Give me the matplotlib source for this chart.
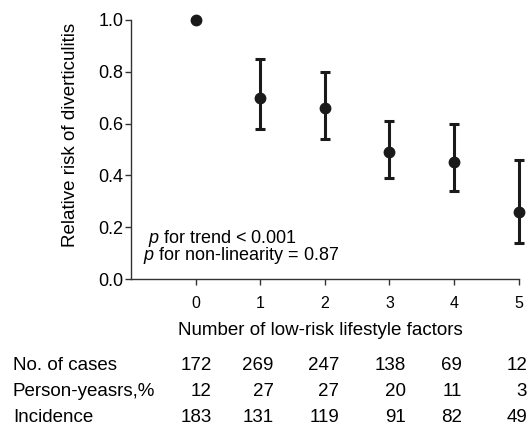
import matplotlib
matplotlib.use("Agg")
import matplotlib.pyplot as plt
import matplotlib.transforms as mtransforms

plt.rcParams['font.family'] = ['Liberation Sans', 'DejaVu Sans']
plt.rcParams['mathtext.fontset'] = 'custom'
plt.rcParams['mathtext.rm'] = 'Liberation Sans'
plt.rcParams['mathtext.it'] = 'Liberation Sans:italic'

# number of low-risk lifestyle factors
factors = [0, 1, 2, 3, 4, 5]
rr = [1.0, 0.70, 0.66, 0.49, 0.45, 0.26]
rr_low = [1.0, 0.58, 0.54, 0.39, 0.34, 0.14]
rr_high = [1.0, 0.85, 0.80, 0.61, 0.60, 0.46]

row_names = ['No. of cases', 'Person-yeasrs,%', 'Incidence']
n_cases = [172, 269, 247, 138, 69, 12]
person_years = [12, 27, 27, 20, 11, 3]
incidence = [183, 131, 119, 91, 82, 49]

W, H = 531, 426
fig = plt.figure(figsize=(W / 100, H / 100), dpi=100)
ax = fig.add_axes([131 / W, 1 - 279 / H, (518.7 - 131) / W, (279 - 20) / H])

col = '#1a1a1a'
# reference category, no CI
ax.plot(factors[0], rr[0], 'o', color=col, markersize=7.5, clip_on=False, zorder=3)
yerr = [[rr[i] - rr_low[i] for i in range(1, 6)], [rr_high[i] - rr[i] for i in range(1, 6)]]
ax.errorbar(factors[1:], rr[1:], yerr=yerr, fmt='o', color=col, markersize=7.5,
            elinewidth=2.2, capsize=3.8, capthick=2.2, clip_on=False, zorder=3)

ax.set_xlim(-1, 5)
ax.set_ylim(0, 1)
ax.set_xticks(factors)
ax.set_yticks([0, 0.2, 0.4, 0.6, 0.8, 1.0])
ax.set_yticklabels(['0.0', '0.2', '0.4', '0.6', '0.8', '1.0'])
for s in ['top', 'right']:
    ax.spines[s].set_visible(False)
for s in ['left', 'bottom']:
    ax.spines[s].set_color('#333333')
    ax.spines[s].set_linewidth(1.0)
ax.tick_params(axis='x', length=4.3, width=1.0, color='#333333', labelsize=11.5, pad=8)
ax.tick_params(axis='y', length=4.3, width=1.0, color='#333333', labelsize=13, pad=1)

fig.text(143 / W, 1 - 260 / H, ' $p$ for trend < 0.001\n$p$ for non-linearity = 0.87',
         fontsize=13, va='baseline', ha='left', linespacing=0.75)

fig.text(62 / W, 1 - 135 / H, 'Relative risk of diverticulitis', rotation=90,
         fontsize=13.5, ha='left', va='center')
fig.text(320.8 / W, 1 - 335 / H, 'Number of low-risk lifestyle factors',
         fontsize=13.5, ha='center', va='baseline')

# table under the axis
trans = mtransforms.blended_transform_factory(ax.transData, fig.transFigure)
col_shift = [0.25, 0.21, 0.22, 0.25, 0.12, 0.13]
row_base = [369.5, 396, 421.5]
for r, (name, vals) in enumerate(zip(row_names, [n_cases, person_years, incidence])):
    y = 1 - row_base[r] / H
    fig.text(13 / W, y, name, fontsize=13.5, ha='left', va='baseline')
    for i, v in enumerate(vals):
        fig.text(factors[i] + col_shift[i], y, str(v), transform=trans,
                 fontsize=13.5, ha='right', va='baseline')

fig.savefig('out.png', dpi=100)
